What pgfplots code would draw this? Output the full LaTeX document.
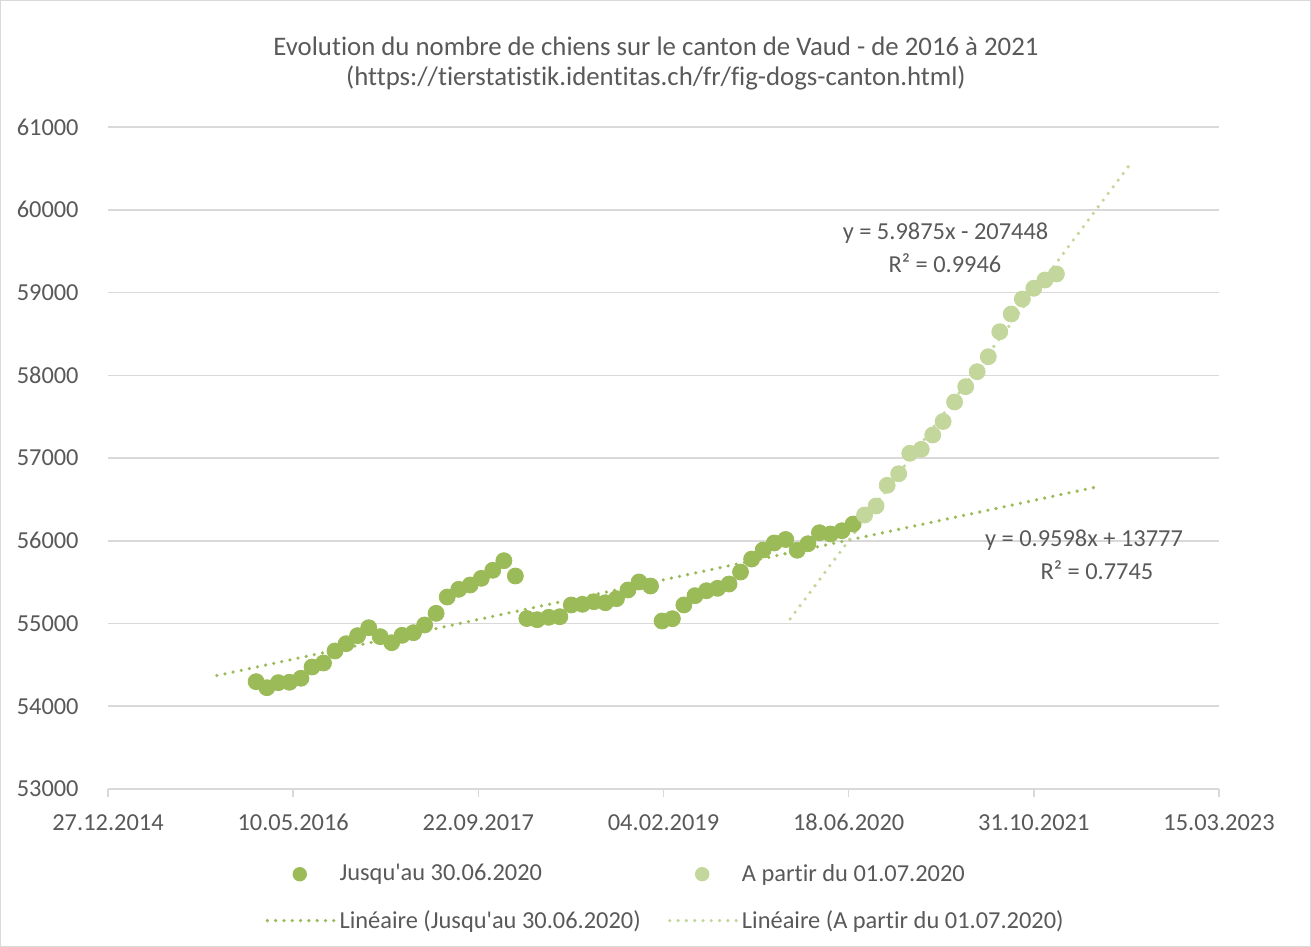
\documentclass[border=0pt]{standalone}
\usepackage{pgfplots}
\pgfplotsset{compat=1.18}
\usepackage{pgfplotstable}
\usepackage{fontspec}
\setmainfont{Carlito}[Ligatures={TeXOff,CommonOff}]
\definecolor{dg}{RGB}{155,187,89}
\definecolor{lg}{RGB}{195,214,155}
\definecolor{tx}{RGB}{89,89,89}
\definecolor{gr}{RGB}{217,217,217}

\pgfplotstableread{
x y
42400 54297
42429 54224
42460 54285
42490 54290
42521 54338
42551 54474
42582 54523
42613 54668
42643 54756
42674 54853
42704 54949
42735 54841
42766 54768
42794 54857
42825 54889
42855 54982
42886 55123
42916 55320
42947 55413
42978 55465
43008 55546
43039 55643
43069 55759
43100 55574
43131 55060
43159 55046
43190 55075
43220 55082
43251 55224
43281 55232
43312 55263
43343 55251
43373 55300
43404 55405
43434 55502
43465 55453
43496 55030
43524 55058
43555 55224
43585 55336
43616 55396
43646 55425
43677 55477
43708 55622
43738 55779
43769 55888
43799 55973
43830 56015
43861 55885
43890 55964
43921 56097
43951 56082
43982 56121
44012 56202
}\darkdata

\pgfplotstableread{
x y
44043 56311
44074 56420
44104 56670
44135 56810
44165 57057
44196 57105
44227 57278
44255 57441
44286 57677
44316 57862
44347 58043
44377 58224
44408 58526
44439 58740
44469 58921
44500 59051
44530 59151
44561 59224
}\lightdata

\newcommand{\fs}{\fontsize{12.2}{14.6}\selectfont}

\begin{document}
\begin{tikzpicture}
\path[use as bounding box] (0,0) rectangle (655.5pt,473.5pt);
\draw[gr, line width=0.6pt] (0.4pt,0.4pt) rectangle (655.1pt,473.1pt);
\node[text=tx, font=\fontsize{13.4}{16}\selectfont, inner sep=0pt] at (328pt,450.5pt) {Evolution du nombre de chiens sur le canton de Vaud - de 2016 à 2021};
\node[text=tx, font=\fontsize{13.4}{16}\selectfont, inner sep=0pt] at (328pt,434.5pt) {(https://tierstatistik.identitas.ch/fr/fig-dogs-canton.html)};
\begin{axis}[
  at={(54pt,79pt)}, anchor=south west,
  scale only axis, width=555.5pt, height=331pt,
  xmin=42000, xmax=45000, ymin=53000, ymax=61000,
  scaled ticks=false,
  xtick={42000,42500,43000,43500,44000,44500,45000},
  xticklabels={27.12.2014,10.05.2016,22.09.2017,04.02.2019,18.06.2020,31.10.2021,15.03.2023},
  ytick={53000,54000,55000,56000,57000,58000,59000,60000,61000},
  yticklabels={53000,54000,55000,56000,57000,58000,59000,60000,61000},
  axis x line*=bottom, axis y line*=left,
  x axis line style={gr, line width=0.75pt, -},
  y axis line style={draw=none},
  xtick style={gr, line width=0.75pt},
  ytick style={draw=none},
  tick align=outside, major tick length=4pt,
  ymajorgrids, grid style={gr, line width=0.75pt},
  tick label style={font=\fs, text=tx},
  xticklabel style={anchor=base, inner sep=0pt, yshift=-16.5pt},
  yticklabel style={anchor=east, inner sep=0pt, xshift=-10.5pt},
  legend columns=2,
  legend cell align=left,
  legend style={at={(0.1413,-0.107)}, anchor=north west, draw=none, fill=none,
    font=\fs, text=tx, inner sep=0pt, row sep=9pt,
    /tikz/every even column/.append style={column sep=11.5pt}},
]
\addplot[only marks, mark=*, mark size=4pt, color=dg, mark options={fill=dg, draw=dg},
  legend image code/.code={\path (0pt,0pt) (34pt,0pt); \path[draw=none, fill=dg] (17pt,0pt) circle (3.6pt);}]
  table {\darkdata};
\addlegendentry{Jusqu'au 30.06.2020}
\addplot[only marks, mark=*, mark size=4pt, color=lg, mark options={fill=lg, draw=lg},
  legend image code/.code={\path (0pt,0pt) (34pt,0pt); \path[draw=none, fill=lg] (17pt,0pt) circle (3.6pt);}]
  table {\lightdata};
\addlegendentry{A partir du 01.07.2020}
\addplot[dg, line width=1.8pt, line cap=round, dash pattern=on 0pt off 4.15pt,
  legend image code/.code={\draw[dg, line width=1.8pt, line cap=round, dash pattern=on 0pt off 4.15pt] (0.8pt,0pt) -- (34pt,0pt);}]
  coordinates {(42294,54371) (44671,56652)};
\addlegendentry{Linéaire (Jusqu'au 30.06.2020)}
\addplot[lg, line width=1.8pt, line cap=round, dash pattern=on 0pt off 4.15pt,
  legend image code/.code={\draw[lg, line width=1.8pt, line cap=round, dash pattern=on 0pt off 4.15pt] (0.8pt,0pt) -- (34pt,0pt);}]
  coordinates {(43842,55055) (44757,60533)};
\addlegendentry{Linéaire (A partir du 01.07.2020)}
\end{axis}
\node[text=tx, font=\fs, inner sep=0pt] at (472.75pt,357pt) {y = 5.9875x - 207448};
\node[text=tx, font=\fs, inner sep=0pt] at (472.5pt,342pt) {R² = 0.9946};
\node[text=tx, font=\fs, inner sep=0pt] at (542pt,203.5pt) {y = 0.9598x + 13777};
\node[text=tx, font=\fs, inner sep=0pt] at (548.5pt,188.5pt) {R² = 0.7745};
\end{tikzpicture}
\end{document}
